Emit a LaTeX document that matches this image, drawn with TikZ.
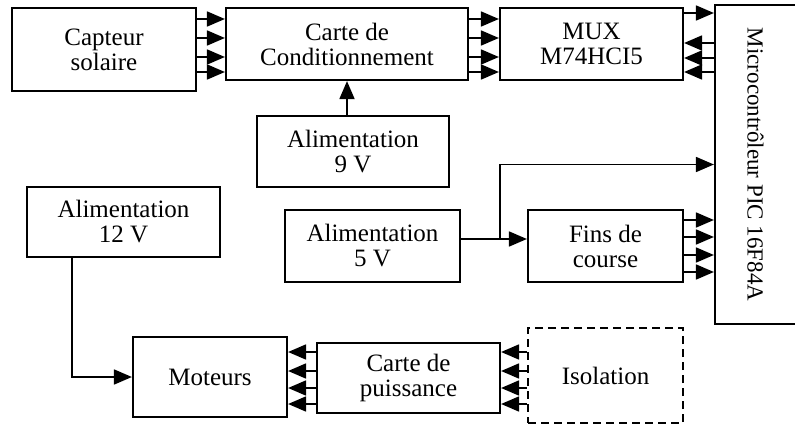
\documentclass[tikz,border=0pt]{standalone}
\usepackage{fontspec}
\setmainfont{Liberation Serif}
\usetikzlibrary{positioning,arrows.meta}

\begin{document}
\begin{tikzpicture}[x=1pt,y=-1pt,>={Triangle[length=18pt,width=15pt]},
                    line width=1.8pt]
  \tikzstyle{block}=[draw=black,line width=2.2pt,align=center,inner sep=0pt,
                     font=\fontsize{25}{25}\selectfont]
  \useasboundingbox (0,0) rectangle (795,425);

  % blocks
  \node[block,minimum width=184pt,minimum height=83pt] (capteur)   at (104,49.5)  {Capteur\\solaire};
  \node[block,minimum width=242pt,minimum height=72pt] (carte)     at (347,44)    {Carte de\\Conditionnement};
  \node[block,minimum width=183pt,minimum height=72pt] (mux)       at (591.5,44)  {MUX\\M74HCI5};
  \node[block,minimum width=81pt,minimum height=319pt,
        font=\fontsize{23}{23}\selectfont]             (micro)     at (755.5,164.5)
       {\rotatebox{-90}{Microcontrôleur PIC 16F84A}};
  \node[block,minimum width=192pt,minimum height=71pt] (alim9)     at (353,151.5) {Alimentation\\9 V};
  \node[block,minimum width=193pt,minimum height=70pt] (alim12)    at (123.5,222) {Alimentation\\12 V};
  \node[block,minimum width=175pt,minimum height=72pt] (alim5)     at (372.5,246) {Alimentation\\5 V};
  \node[block,minimum width=155pt,minimum height=72pt] (fins)      at (605.5,246) {Fins de\\course};
  \node[block,minimum width=154pt,minimum height=80pt] (moteurs)   at (210,377)   {Moteurs};
  \node[block,minimum width=183pt,minimum height=70pt] (puissance) at (408.5,378) {Carte de\\puissance};
  \node[block,dashed,dash pattern=on 8pt off 5pt,
        minimum width=155pt,minimum height=95pt]       (isolation) at (605.5,375.5) {Isolation};

  % buses
  \foreach \d in {25,6,-13,-28} {
    \path ([yshift=\d pt]carte.west) coordinate (t);
    \draw[->] (t -| capteur.east) -- (t);
    \path ([yshift=\d pt]carte.east) coordinate (t);
    \draw[->] (t) -- (t -| mux.west);
  }
  \path ([yshift=31pt]mux.east) coordinate (t);
  \draw[->] (t) -- (t -| micro.west);
  \foreach \d in {1,-14,-28} {
    \path ([yshift=\d pt]mux.east) coordinate (t);
    \draw[->] (t -| micro.west) -- (t);
  }
  \foreach \d in {26,9,-9,-26} {
    \path ([yshift=\d pt]fins.east) coordinate (t);
    \draw[->] (t) -- (t -| micro.west);
  }
  \foreach \d in {26,7,-10,-26} {
    \path ([yshift=\d pt]puissance.west) coordinate (t);
    \draw[->] (t) -- (t -| moteurs.east);
    \path ([yshift=\d pt]puissance.east) coordinate (t);
    \draw[->] (t -| isolation.west) -- (t);
  }

  % supplies
  \path ([xshift=-6pt]alim9.north) coordinate (a9);
  \draw[->] (a9) -- (a9 |- carte.south);
  \path ([yshift=7pt]alim5.east) coordinate (a5);
  \draw[->] (a5) -- (a5 -| fins.west);
  \coordinate (jct) at (500,239);
  \draw[->] (jct) |- (micro.west);
  \path ([xshift=-51.5pt]alim12.south) coordinate (a12);
  \draw[->] (a12) |- (moteurs.west);
\end{tikzpicture}
\end{document}
